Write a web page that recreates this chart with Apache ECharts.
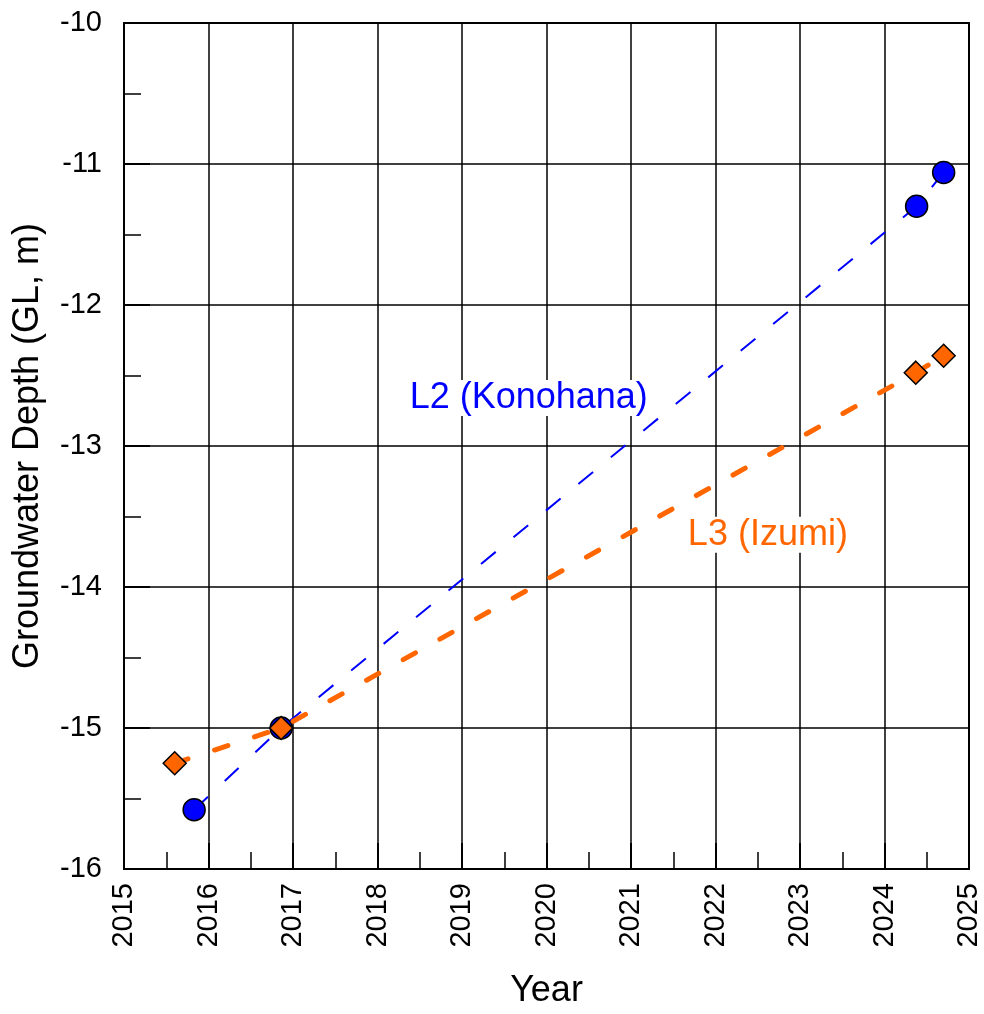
<!DOCTYPE html>
<html>
<head>
<meta charset="utf-8">
<script src="https://cdn.jsdelivr.net/npm/echarts@6/dist/echarts.min.js"></script>
<style>html,body{margin:0;padding:0;background:#fff}#c{width:984px;height:1014px}</style>
</head>
<body>
<div id="c"></div>
<script>
const l2Years = [2015.83, 2016.86, 2024.38, 2024.70];
const l2Depth = [-15.58, -15.00, -11.30, -11.06];
const l3Years = [2015.60, 2016.86, 2024.37, 2024.70];
const l3Depth = [-15.25, -15.00, -12.48, -12.36];
const l2Label = {text: 'L2 (Konohana)', x: 2019.79, y: -12.66};
const l3Label = {text: 'L3 (Izumi)', x: 2022.62, y: -13.63};
const blue = '#0000FF', orange = '#FF6600';
const font = 'Arial, "Liberation Sans", sans-serif';

const zip = (a, b) => a.map((v, i) => [v, b[i]]);

const chart = echarts.init(document.getElementById('c'));
chart.setOption({
  animation: false,
  backgroundColor: '#fff',
  grid: {left: 124, top: 23, right: 15, bottom: 145, show: true, borderColor: '#000', borderWidth: 2, backgroundColor: 'transparent'},
  xAxis: {
    type: 'value', min: 2015, max: 2025, interval: 1,
    name: 'Year', nameLocation: 'middle', nameGap: 104,
    nameTextStyle: {fontFamily: font, fontSize: 36, color: '#000'},
    axisLine: {show: true, lineStyle: {color: '#000', width: 2}},
    axisTick: {show: true, inside: true, length: 26, lineStyle: {color: '#000', width: 2}},
    minorTick: {show: true, splitNumber: 2, length: 17, lineStyle: {color: '#000', width: 1.5}},
    splitLine: {show: true, lineStyle: {color: '#000', width: 1.5}},
    axisLabel: {rotate: 90, margin: 14, fontFamily: font, fontSize: 29, color: '#000', formatter: v => String(v)}
  },
  yAxis: {
    type: 'value', min: -16, max: -10, interval: 1,
    name: 'Groundwater Depth (GL, m)', nameLocation: 'middle', nameGap: 78,
    nameTextStyle: {fontFamily: font, fontSize: 36, color: '#000'},
    axisLine: {show: true, lineStyle: {color: '#000', width: 2}},
    axisTick: {show: true, inside: true, length: 26, lineStyle: {color: '#000', width: 2}},
    minorTick: {show: true, splitNumber: 2, length: 17, lineStyle: {color: '#000', width: 1.5}},
    splitLine: {show: true, lineStyle: {color: '#000', width: 1.5}},
    axisLabel: {margin: 22, fontFamily: font, fontSize: 29, color: '#000'}
  },
  series: [
    {
      type: 'line', name: 'L2', data: zip(l2Years, l2Depth), z: 3,
      symbol: 'circle', symbolSize: 22,
      itemStyle: {color: blue, borderColor: '#000', borderWidth: 1.5},
      lineStyle: {color: blue, width: 2, type: [19, 23]}
    },
    {
      type: 'line', name: 'L3', data: zip(l3Years, l3Depth), z: 4,
      symbol: 'diamond', symbolSize: 23,
      itemStyle: {color: orange, borderColor: '#000', borderWidth: 1.5},
      lineStyle: {color: orange, width: 5, type: [14, 28], cap: 'round'}
    },
    {
      type: 'scatter', symbolSize: 0, z: 5, silent: true,
      itemStyle: {opacity: 1},
      data: [
        {value: [l2Label.x, l2Label.y], label: {formatter: l2Label.text, color: blue}},
        {value: [l3Label.x, l3Label.y], label: {formatter: l3Label.text, color: orange}}
      ],
      label: {show: true, position: 'inside', fontFamily: font, fontSize: 36, backgroundColor: '#fff', padding: [0, 3], opacity: 1}
    }
  ]
});
</script>
</body>
</html>
